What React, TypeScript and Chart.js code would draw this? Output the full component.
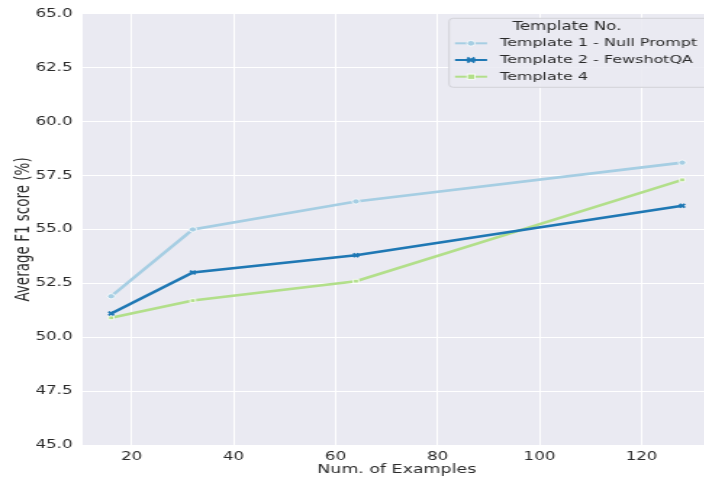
import React, { useEffect, useRef } from "react";
import { Chart, registerables } from "chart.js";

Chart.register(...registerables);

// ---- data ----
const examples = [16, 32, 64, 128];
const template1 = [51.9, 55.0, 56.3, 58.1];
const template2 = [51.1, 53.0, 53.8, 56.1];
const template4 = [50.9, 51.7, 52.6, 57.3];
const seriesNames = ["Template 1 - Null Prompt", "Template 2 - FewshotQA", "Template 4"];
const seriesColors = ["#a6cee3", "#1f78b4", "#b2df8a"];
const seriesMarkers = ["circle", "crossRot", "rect"];
const legendTitle = "Template No.";
const xTitle = "Num. of Examples";
const yTitle = "Average F1 score (%)";
const xRange = [10.4, 133.6];
const yRange = [45, 65];

// ---- layout ----
const SX = 1.45; // horizontal stretch of the whole figure
const W = 496;
const H = 479;
const FONT = "'DejaVu Sans', sans-serif";
const TEXT = "#2a2a2a";

function drawMarker(ctx: CanvasRenderingContext2D, style: string, x: number, y: number, color: string) {
  ctx.save();
  if (style === "circle") {
    ctx.beginPath();
    ctx.arc(x, y, 2.8, 0, Math.PI * 2);
    ctx.fillStyle = color;
    ctx.fill();
    ctx.lineWidth = 0.8;
    ctx.strokeStyle = "#ffffff";
    ctx.stroke();
  } else if (style === "rect") {
    ctx.fillStyle = color;
    ctx.fillRect(x - 2.6, y - 2.6, 5.2, 5.2);
    ctx.lineWidth = 0.8;
    ctx.strokeStyle = "#ffffff";
    ctx.strokeRect(x - 2.6, y - 2.6, 5.2, 5.2);
  } else {
    ctx.beginPath();
    ctx.moveTo(x - 2.5, y - 2.5);
    ctx.lineTo(x + 2.5, y + 2.5);
    ctx.moveTo(x + 2.5, y - 2.5);
    ctx.lineTo(x - 2.5, y + 2.5);
    ctx.lineWidth = 1.8;
    ctx.strokeStyle = color;
    ctx.stroke();
  }
  ctx.restore();
}

const bgPlugin = {
  id: "bgArea",
  beforeDraw(chart: any) {
    const { ctx, chartArea } = chart;
    ctx.save();
    ctx.fillStyle = "#eaeaf2";
    ctx.fillRect(chartArea.left, chartArea.top, chartArea.right - chartArea.left, chartArea.bottom - chartArea.top);
    ctx.restore();
  },
};

const legendPlugin = {
  id: "boxLegend",
  afterDatasetsDraw(chart: any) {
    const ctx: CanvasRenderingContext2D = chart.ctx;
    const bx = 309.7, by = 18.3, bw = 182, bh = 69;
    ctx.save();
    ctx.beginPath();
    (ctx as any).roundRect(bx, by, bw, bh, 3);
    ctx.fillStyle = "rgba(234,234,242,0.85)";
    ctx.fill();
    ctx.lineWidth = 1;
    ctx.strokeStyle = "#d2d2d8";
    ctx.stroke();

    ctx.fillStyle = TEXT;
    ctx.font = `11.5px ${FONT}`;
    ctx.textAlign = "center";
    ctx.textBaseline = "middle";
    ctx.fillText(legendTitle, 391, 27.5);

    const rows = [43.3, 60, 76.7];
    chart.data.datasets.forEach((ds: any, i: number) => {
      const y = rows[i];
      ctx.beginPath();
      ctx.moveTo(313.8, y);
      ctx.lineTo(335.9, y);
      ctx.lineWidth = 2;
      ctx.strokeStyle = ds.borderColor;
      ctx.stroke();
      drawMarker(ctx, seriesMarkers[i], 324.8, y, ds.borderColor);
      ctx.fillStyle = TEXT;
      ctx.font = `11px ${FONT}`;
      ctx.textAlign = "left";
      ctx.fillText(ds.label, 344.8, y);
    });
    ctx.restore();
  },
};

export default function App() {
  const ref = useRef<HTMLCanvasElement | null>(null);

  useEffect(() => {
    if (!ref.current) return;
    const series = [template1, template2, template4];
    const chart = new Chart(ref.current, {
      type: "line",
      data: {
        datasets: series.map((vals, i) => ({
          label: seriesNames[i],
          data: examples.map((x, j) => ({ x, y: vals[j] })),
          borderColor: seriesColors[i],
          backgroundColor: seriesColors[i],
          borderWidth: 2.6,
          pointStyle: seriesMarkers[i] as any,
          pointRadius: 2.6,
          pointBackgroundColor: seriesColors[i],
          pointBorderColor: seriesMarkers[i] === "crossRot" ? seriesColors[i] : "#ffffff",
          pointBorderWidth: seriesMarkers[i] === "crossRot" ? 1.8 : 0.8,
          tension: 0,
          fill: false,
        })),
      },
      options: {
        responsive: false,
        animation: false,
        devicePixelRatio: 1,
        layout: { padding: { left: 0, right: 2, top: 12, bottom: 0 } },
        plugins: {
          legend: { display: false },
          tooltip: { enabled: false },
        },
        scales: {
          x: {
            type: "linear",
            min: xRange[0],
            max: xRange[1],
            border: { display: false },
            grid: { color: "#ffffff", lineWidth: 1, drawTicks: false },
            ticks: {
              stepSize: 20,
              includeBounds: false,
              padding: 5,
              color: TEXT,
              font: { family: FONT, size: 11.5 },
              maxRotation: 0,
            },
            title: {
              display: true,
              text: xTitle,
              color: TEXT,
              font: { family: FONT, size: 12 },
              padding: { top: 0, bottom: 1.5 },
            },
            afterFit: (s: any) => {
              s.height = 34;
            },
          },
          y: {
            type: "linear",
            min: yRange[0],
            max: yRange[1],
            border: { display: false },
            grid: { color: "#ffffff", lineWidth: 1, drawTicks: false },
            ticks: {
              stepSize: 2.5,
              padding: 7,
              color: TEXT,
              font: { family: FONT, size: 11.5 },
              callback: (v: any) => Number(v).toFixed(1),
            },
            title: {
              display: true,
              text: yTitle,
              color: TEXT,
              font: { family: FONT, size: 13.5 },
              padding: { top: 8, bottom: 0 },
            },
            afterFit: (s: any) => {
              s.width = 57;
            },
          },
        },
      },
      plugins: [bgPlugin, legendPlugin],
    });
    return () => chart.destroy();
  }, []);

  return (
    <div
      style={{
        position: "fixed",
        left: 0,
        top: 0,
        width: W,
        height: H,
        transform: `scaleX(${SX})`,
        transformOrigin: "0 0",
      }}
    >
      <canvas ref={ref} width={W} height={H} style={{ display: "block" }} />
    </div>
  );
}
